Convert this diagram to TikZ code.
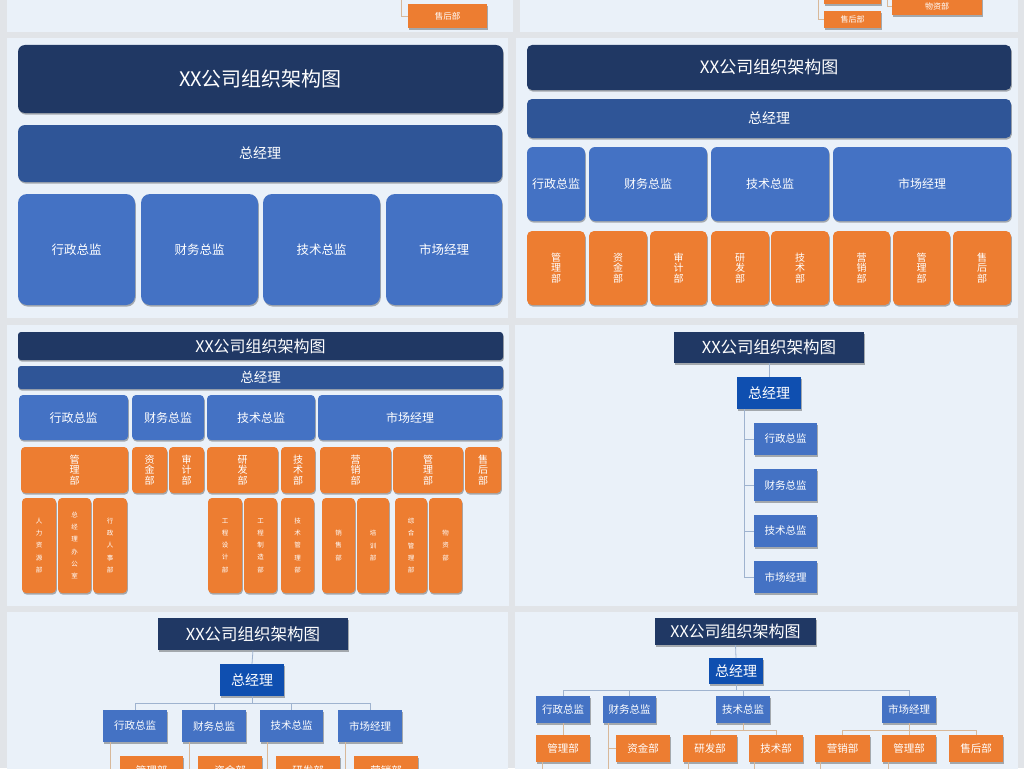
\documentclass[tikz,border=0pt]{standalone}
\usepackage{fontspec}
\setmainfont{Noto Sans CJK SC}
\usetikzlibrary{shadows,calc}
\definecolor{bggray}{HTML}{E1E4E8}
\definecolor{panel}{HTML}{EAF1F9}
\definecolor{navy}{HTML}{203864}
\definecolor{dblue}{HTML}{2F5597}
\definecolor{mblue}{HTML}{4472C4}
\definecolor{bblue}{HTML}{0F4FB0}
\definecolor{orng}{HTML}{ED7D31}
\definecolor{lineb}{HTML}{9FB3CF}
\definecolor{lineo}{HTML}{D8B899}
\newcommand\mkbox[7]{\node[#1, minimum width={#5-#3}, minimum height={#6-#4}] (#2) at ({(#3+#5)/2},{(#4+#6)/2}) {#7};}
\tikzset{
  sh/.style={drop shadow={shadow xshift=0.8pt, shadow yshift=-1.6pt, opacity=0.3, fill=black}},
  bx/.style={inner sep=0pt, outer sep=0pt, text=white, align=center, sh},
  fs/.style 2 args={font=\fontsize{#1}{#2}\selectfont},
  nv/.style={bx, fill=navy},
  db/.style={bx, fill=dblue},
  mb/.style={bx, fill=mblue},
  bb/.style={bx, fill=bblue},
  og/.style={bx, fill=orng},
  lnb/.style={draw=lineb, line width=0.8pt},
  lno/.style={draw=lineo, line width=0.8pt},
  pnl/.style={fill=panel, draw=none},
}
\begin{document}
\begin{tikzpicture}[x=1pt,y=-1pt]
\useasboundingbox (0,0) rectangle (1024,768);
\clip (0,0) rectangle (1024,768);
\fill[bggray] (0,0) rectangle (1024,768);
% panels
\fill[pnl] (7,-5) rectangle (513,32);
\fill[pnl] (520,-5) rectangle (1018,32);
\fill[pnl] (7,38) rectangle (508,318);
\fill[pnl] (516,38) rectangle (1018,318);
\fill[pnl] (7,325) rectangle (509,606);
\fill[pnl] (515,325) rectangle (1017,606);
\fill[pnl] (7,612) rectangle (508,775);
\fill[pnl] (515,612) rectangle (1018,775);

% ---------- top strip ----------
\mkbox{og, fs={8.5}{10}}{s1b}{408}{4}{487}{28}{售后部}
\coordinate (s1) at (401,-5);
\draw[lno] (s1) |- (s1b.west);
\mkbox{og}{s2x}{824}{-20}{881}{4}{}
\mkbox{og, fs={8}{10}}{s2b}{824}{11}{881}{28}{售后部}
\mkbox{og, fs={8}{10}}{s2w}{892}{-2}{982}{15}{物资部}
\coordinate (s2) at (818,-5);
\coordinate (s3) at (887,-5);
\draw[lno] (s2) |- (s2b.west);
\draw[lno] (s3) |- (s2w.west);

% ---------- panel 1 ----------
\mkbox{nv, rounded corners=7pt, fs={20}{24}}{p1t}{18}{45}{503}{113}{XX公司组织架构图}
\mkbox{db, rounded corners=7pt, fs={14}{16}}{p1g}{18}{125}{502}{182}{总经理}
\mkbox{mb, rounded corners=9pt, fs={12.5}{15}}{p1a}{18}{194}{135}{305}{行政总监}
\mkbox{mb, rounded corners=9pt, fs={12.5}{15}}{p1b}{141}{194}{258}{305}{财务总监}
\mkbox{mb, rounded corners=9pt, fs={12.5}{15}}{p1c}{263}{194}{380}{305}{技术总监}
\mkbox{mb, rounded corners=9pt, fs={12.5}{15}}{p1d}{386}{194}{502}{305}{市场经理}

% ---------- panel 2 ----------
\mkbox{nv, rounded corners=5pt, fs={17}{20}}{p2t}{527}{45}{1011}{90}{XX公司组织架构图}
\mkbox{db, rounded corners=5pt, fs={14}{16}}{p2g}{527}{99}{1011}{138}{总经理}
\mkbox{mb, rounded corners=6pt, fs={12}{14}}{p2a}{527}{147}{585}{221}{行政总监}
\mkbox{mb, rounded corners=6pt, fs={12}{14}}{p2b}{589}{147}{707}{221}{财务总监}
\mkbox{mb, rounded corners=6pt, fs={12}{14}}{p2c}{711}{147}{829}{221}{技术总监}
\mkbox{mb, rounded corners=6pt, fs={12}{14}}{p2d}{833}{147}{1011}{221}{市场经理}
\mkbox{og, rounded corners=5pt, fs={10}{10.5}}{p2o1}{527}{231}{585}{305}{管\\理\\部}
\mkbox{og, rounded corners=5pt, fs={10}{10.5}}{p2o2}{589}{231}{647}{305}{资\\金\\部}
\mkbox{og, rounded corners=5pt, fs={10}{10.5}}{p2o3}{650}{231}{707}{305}{审\\计\\部}
\mkbox{og, rounded corners=5pt, fs={10}{10.5}}{p2o4}{711}{231}{769}{305}{研\\发\\部}
\mkbox{og, rounded corners=5pt, fs={10}{10.5}}{p2o5}{771}{231}{829}{305}{技\\术\\部}
\mkbox{og, rounded corners=5pt, fs={10}{10.5}}{p2o6}{833}{231}{890}{305}{营\\销\\部}
\mkbox{og, rounded corners=5pt, fs={10}{10.5}}{p2o7}{893}{231}{950}{305}{管\\理\\部}
\mkbox{og, rounded corners=5pt, fs={10}{10.5}}{p2o8}{953}{231}{1011}{305}{售\\后\\部}

% ---------- panel 3 ----------
\mkbox{nv, rounded corners=3pt, fs={16}{18}}{p3t}{18}{332}{503}{360}{XX公司组织架构图}
\mkbox{db, rounded corners=3pt, fs={13.5}{15}}{p3g}{18}{366}{503}{389}{总经理}
\mkbox{mb, rounded corners=4pt, fs={12}{14}}{p3a}{19}{395}{128}{440}{行政总监}
\mkbox{mb, rounded corners=4pt, fs={12}{14}}{p3b}{132}{395}{204}{440}{财务总监}
\mkbox{mb, rounded corners=4pt, fs={12}{14}}{p3c}{207}{395}{315}{440}{技术总监}
\mkbox{mb, rounded corners=4pt, fs={12}{14}}{p3d}{318}{395}{502}{440}{市场经理}
\mkbox{og, rounded corners=4pt, fs={10}{10.5}}{p3o1}{21}{447}{128}{493}{管\\理\\部}
\mkbox{og, rounded corners=4pt, fs={10}{10.5}}{p3o2}{132}{447}{167}{493}{资\\金\\部}
\mkbox{og, rounded corners=4pt, fs={10}{10.5}}{p3o3}{169}{447}{204}{493}{审\\计\\部}
\mkbox{og, rounded corners=4pt, fs={10}{10.5}}{p3o4}{207}{447}{278}{493}{研\\发\\部}
\mkbox{og, rounded corners=4pt, fs={10}{10.5}}{p3o5}{281}{447}{315}{493}{技\\术\\部}
\mkbox{og, rounded corners=4pt, fs={10}{10.5}}{p3o6}{320}{447}{391}{493}{营\\销\\部}
\mkbox{og, rounded corners=4pt, fs={10}{10.5}}{p3o7}{393}{447}{463}{493}{管\\理\\部}
\mkbox{og, rounded corners=4pt, fs={10}{10.5}}{p3o8}{465}{447}{501}{493}{售\\后\\部}
\mkbox{og, rounded corners=4pt, fs={6.5}{12.3}}{p3s1}{22}{498}{56}{593}{人\\力\\资\\源\\部}
\mkbox{og, rounded corners=4pt, fs={6.5}{12.3}}{p3s2}{58}{498}{91}{593}{总\\经\\理\\办\\公\\室}
\mkbox{og, rounded corners=4pt, fs={6.5}{12.3}}{p3s3}{93}{498}{127}{593}{行\\政\\人\\事\\部}
\mkbox{og, rounded corners=4pt, fs={6.5}{12.3}}{p3s4}{208}{498}{242}{593}{工\\程\\设\\计\\部}
\mkbox{og, rounded corners=4pt, fs={6.5}{12.3}}{p3s5}{244}{498}{277}{593}{工\\程\\制\\造\\部}
\mkbox{og, rounded corners=4pt, fs={6.5}{12.3}}{p3s6}{281}{498}{314}{593}{技\\术\\管\\理\\部}
\mkbox{og, rounded corners=4pt, fs={6.5}{12.3}}{p3s7}{322}{498}{355}{593}{销\\售\\部}
\mkbox{og, rounded corners=4pt, fs={6.5}{12.3}}{p3s8}{357}{498}{389}{593}{培\\训\\部}
\mkbox{og, rounded corners=4pt, fs={6.5}{12.3}}{p3s9}{395}{498}{427}{593}{综\\合\\管\\理\\部}
\mkbox{og, rounded corners=4pt, fs={6.5}{12.3}}{p3s10}{429}{498}{462}{593}{物\\资\\部}

% ---------- panel 4 ----------
\mkbox{nv, fs={16.5}{19}}{p4t}{674}{332}{864}{363}{XX公司组织架构图}
\mkbox{bb, fs={14}{16}}{p4g}{737}{377}{801}{409}{总经理}
\mkbox{mb, fs={10.5}{12}}{p4a}{754}{423}{817}{455}{行政总监}
\mkbox{mb, fs={10.5}{12}}{p4b}{754}{469}{817}{501}{财务总监}
\mkbox{mb, fs={10.5}{12}}{p4c}{754}{515}{817}{547}{技术总监}
\mkbox{mb, fs={10.5}{12}}{p4d}{754}{561}{817}{593}{市场经理}
\draw[lnb] (p4t.south) -- (p4g.north);
\foreach \c in {p4a,p4b,p4c,p4d}
  \draw[lnb] ($(p4g.south west)+(7,0)$) |- (\c.west);

% ---------- panel 5 ----------
\mkbox{nv, fs={16.5}{19}}{p5t}{158}{618}{348}{650}{XX公司组织架构图}
\mkbox{bb, fs={14}{16}}{p5g}{220}{664}{284}{696}{总经理}
\mkbox{mb, fs={10.5}{12}}{p5a}{103}{710}{167}{742}{行政总监}
\mkbox{mb, fs={10.5}{12}}{p5b}{182}{710}{246}{742}{财务总监}
\mkbox{mb, fs={10.5}{12}}{p5c}{260}{710}{323}{742}{技术总监}
\mkbox{mb, fs={10.5}{12}}{p5d}{338}{710}{402}{742}{市场经理}
\mkbox{og, fs={10.5}{12}}{p5oa}{120}{756}{183}{785}{管理部}
\mkbox{og, fs={10.5}{12}}{p5ob}{198}{756}{262}{785}{资金部}
\mkbox{og, fs={10.5}{12}}{p5oc}{276}{756}{340}{785}{研发部}
\mkbox{og, fs={10.5}{12}}{p5od}{354}{756}{418}{785}{营销部}
\draw[lnb] (p5t.south) -- (p5g.north);
\foreach \c in {p5a,p5b,p5c,p5d}
  \draw[lnb] (p5g.south) -- ++(0,7) -| (\c.north);
\draw[lno] ($(p5a.south west)+(7,0)$) |- (p5oa.west);
\draw[lno] ($(p5b.south west)+(7,0)$) |- (p5ob.west);
\draw[lno] ($(p5c.south west)+(7,0)$) |- (p5oc.west);
\draw[lno] ($(p5d.south west)+(7,0)$) |- (p5od.west);

% ---------- panel 6 ----------
\mkbox{nv, fs={16}{19}}{p6t}{655}{618}{816}{645}{XX公司组织架构图}
\mkbox{bb, fs={14}{16}}{p6g}{709}{658}{763}{684}{总经理}
\mkbox{mb, fs={10.5}{12}}{p6a}{536}{696}{590}{723}{行政总监}
\mkbox{mb, fs={10.5}{12}}{p6b}{603}{696}{656}{723}{财务总监}
\mkbox{mb, fs={10.5}{12}}{p6c}{716}{696}{770}{723}{技术总监}
\mkbox{mb, fs={10.5}{12}}{p6d}{882}{696}{936}{723}{市场经理}
\mkbox{og, fs={10.5}{12}}{p6oa}{536}{735}{590}{762}{管理部}
\mkbox{og, fs={10.5}{12}}{p6ob}{616}{735}{670}{762}{资金部}
\mkbox{og, fs={10.5}{12}}{p6oc}{683}{735}{737}{762}{研发部}
\mkbox{og, fs={10.5}{12}}{p6od}{749}{735}{803}{762}{技术部}
\mkbox{og, fs={10.5}{12}}{p6oe}{815}{735}{870}{762}{营销部}
\mkbox{og, fs={10.5}{12}}{p6of}{882}{735}{936}{762}{管理部}
\mkbox{og, fs={10.5}{12}}{p6og}{949}{735}{1003}{762}{售后部}
\draw[lnb] (p6t.south) -- (p6g.north);
\foreach \c in {p6a,p6b,p6c,p6d}
  \draw[lnb] (p6g.south) -- ++(0,6) -| (\c.north);
\draw[lno] (p6a.south) -- (p6oa.north);
\draw[lno] ($(p6b.south west)+(5,0)$) |- (p6ob.west);
\draw[lno] ($(p6b.south west)+(5,0)$) -- ++(0,60);
\foreach \c in {p6oc,p6od}
  \draw[lno] (p6c.south) -- ++(0,7) -| (\c.north);
\foreach \c in {p6oe,p6of,p6og}
  \draw[lno] (p6d.south) -- ++(0,7) -| (\c.north);
\draw[lno] ($(p6oa.south west)+(6,0)$) -- ++(0,15);
\draw[lno] ($(p6oc.south west)+(5,0)$) -- ++(0,15);
\draw[lno] ($(p6od.south west)+(5,0)$) -- ++(0,15);
\draw[lno] ($(p6oe.south west)+(5,0)$) -- ++(0,15);
\draw[lno] ($(p6of.south west)+(6,0)$) -- ++(0,15);
\end{tikzpicture}
\end{document}
